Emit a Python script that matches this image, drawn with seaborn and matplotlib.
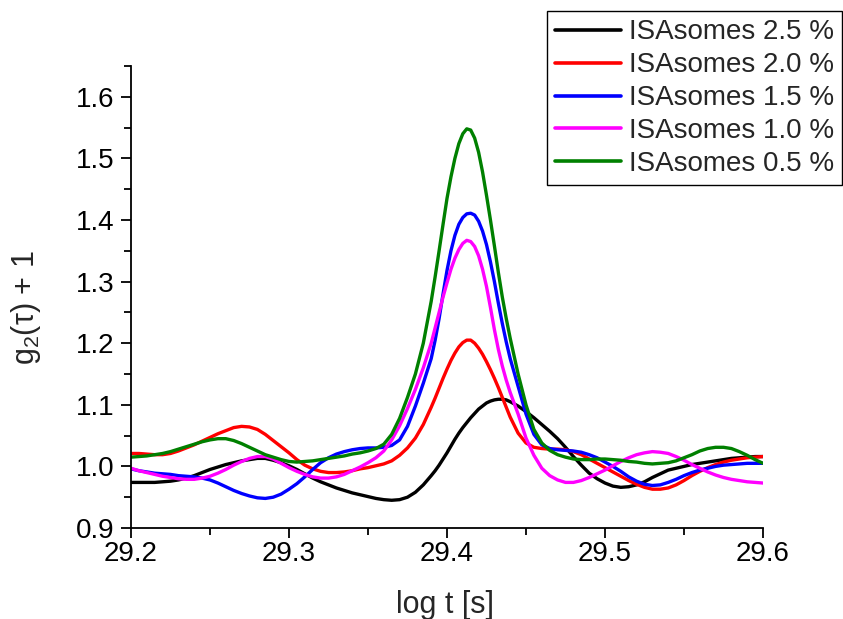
import numpy as np
import pandas as pd
import matplotlib
matplotlib.use("Agg")
import matplotlib.pyplot as plt
import seaborn as sns
from matplotlib.ticker import MultipleLocator

# ---- data ----
x_vals = [
    29.200, 29.205, 29.210, 29.215, 29.220, 29.225, 29.230, 29.235, 29.240, 29.245,
    29.250, 29.255, 29.260, 29.265, 29.270, 29.275, 29.280, 29.285, 29.290, 29.295,
    29.300, 29.305, 29.310, 29.315, 29.320, 29.325, 29.330, 29.335, 29.340, 29.345,
    29.350, 29.355, 29.360, 29.365, 29.370, 29.375, 29.380, 29.385, 29.390,
    29.3925, 29.3950, 29.3975, 29.4000, 29.4025, 29.4050, 29.4075, 29.4100, 29.4125,
    29.4150, 29.4175, 29.4200, 29.4225, 29.4250, 29.4275, 29.4300, 29.4325, 29.4350,
    29.4375,
    29.440, 29.445, 29.450, 29.455, 29.460, 29.465, 29.470, 29.475, 29.480, 29.485,
    29.490, 29.495, 29.500, 29.505, 29.510, 29.515, 29.520, 29.525, 29.530, 29.535,
    29.540, 29.545, 29.550, 29.555, 29.560, 29.565, 29.570, 29.575, 29.580, 29.585,
    29.590, 29.595, 29.600]

g_25 = [
    0.974, 0.974, 0.974, 0.974, 0.975, 0.976, 0.978, 0.981, 0.985, 0.990,
    0.995, 0.999, 1.003, 1.006, 1.009, 1.011, 1.013, 1.013, 1.010, 1.006,
    1.001, 0.995, 0.988, 0.981, 0.975, 0.970, 0.965, 0.961, 0.957, 0.954,
    0.951, 0.948, 0.946, 0.945, 0.946, 0.950, 0.958, 0.970, 0.985,
    0.993, 1.002, 1.012, 1.022, 1.033, 1.044, 1.054, 1.063, 1.071,
    1.079, 1.086, 1.093, 1.098, 1.103, 1.106, 1.108, 1.109, 1.109,
    1.108,
    1.105, 1.098, 1.089, 1.079, 1.068, 1.057, 1.045, 1.031, 1.016, 1.002,
    0.989, 0.980, 0.973, 0.968, 0.966, 0.967, 0.970, 0.975, 0.982, 0.988,
    0.994, 0.997, 1.000, 1.003, 1.005, 1.007, 1.009, 1.011, 1.013, 1.014,
    1.015, 1.016, 1.016]

g_20 = [
    1.021, 1.021, 1.020, 1.019, 1.019, 1.021, 1.025, 1.030, 1.035, 1.041,
    1.047, 1.053, 1.058, 1.063, 1.065, 1.064, 1.060, 1.052, 1.042, 1.032,
    1.022, 1.011, 1.002, 0.996, 0.992, 0.990, 0.990, 0.991, 0.993, 0.996,
    0.998, 1.001, 1.004, 1.009, 1.018, 1.030, 1.046, 1.068, 1.096,
    1.111, 1.127, 1.143, 1.158, 1.172, 1.184, 1.194, 1.201, 1.205,
    1.205, 1.200, 1.192, 1.182, 1.170, 1.157, 1.143, 1.128, 1.112,
    1.096,
    1.080, 1.054, 1.038, 1.031, 1.029, 1.028, 1.028, 1.027, 1.024, 1.019,
    1.012, 1.005, 0.998, 0.991, 0.984, 0.977, 0.971, 0.966, 0.963, 0.963,
    0.965, 0.970, 0.977, 0.985, 0.992, 0.998, 1.003, 1.007, 1.010, 1.012,
    1.014, 1.015, 1.016]

g_15 = [
    0.996, 0.993, 0.991, 0.989, 0.988, 0.987, 0.985, 0.984, 0.983, 0.981,
    0.978, 0.973, 0.967, 0.961, 0.956, 0.952, 0.949, 0.948, 0.950, 0.955,
    0.963, 0.972, 0.983, 0.995, 1.006, 1.014, 1.020, 1.024, 1.027, 1.029,
    1.030, 1.030, 1.031, 1.034, 1.043, 1.065, 1.098, 1.135, 1.175,
    1.205, 1.240, 1.280, 1.318, 1.350, 1.375, 1.393, 1.404, 1.410,
    1.411, 1.408, 1.398, 1.382, 1.360, 1.332, 1.300, 1.265, 1.232,
    1.202,
    1.175, 1.130, 1.085, 1.052, 1.035, 1.029, 1.027, 1.026, 1.025, 1.023,
    1.019, 1.014, 1.007, 1.000, 0.992, 0.983, 0.976, 0.971, 0.969, 0.970,
    0.974, 0.979, 0.985, 0.990, 0.994, 0.997, 1.000, 1.002, 1.003, 1.004,
    1.005, 1.005, 1.005]

g_10 = [
    0.997, 0.993, 0.990, 0.987, 0.984, 0.982, 0.980, 0.979, 0.979, 0.981,
    0.984, 0.989, 0.995, 1.002, 1.008, 1.013, 1.016, 1.016, 1.012, 1.005,
    0.998, 0.992, 0.987, 0.983, 0.981, 0.981, 0.983, 0.987, 0.993, 0.999,
    1.006, 1.014, 1.025, 1.043, 1.066, 1.094, 1.125, 1.160, 1.200,
    1.225, 1.250, 1.275, 1.298, 1.320, 1.338, 1.352, 1.362, 1.367,
    1.365, 1.357, 1.342, 1.320, 1.292, 1.258, 1.222, 1.190, 1.163,
    1.140,
    1.120, 1.085, 1.046, 1.018, 0.997, 0.985, 0.978, 0.974, 0.974, 0.977,
    0.982, 0.988, 0.994, 1.001, 1.008, 1.014, 1.019, 1.022, 1.024, 1.023,
    1.021, 1.016, 1.010, 1.003, 0.997, 0.991, 0.986, 0.982, 0.979, 0.977,
    0.975, 0.974, 0.973]

g_05 = [
    1.015, 1.016, 1.017, 1.019, 1.021, 1.024, 1.028, 1.032, 1.036, 1.040,
    1.043, 1.045, 1.045, 1.042, 1.037, 1.031, 1.025, 1.019, 1.015, 1.011,
    1.008, 1.007, 1.008, 1.009, 1.011, 1.013, 1.015, 1.017, 1.020, 1.022,
    1.025, 1.029, 1.036, 1.052, 1.078, 1.112, 1.150, 1.200, 1.268,
    1.308, 1.350, 1.393, 1.435, 1.470, 1.500, 1.524, 1.540, 1.548,
    1.546, 1.533, 1.510, 1.478, 1.440, 1.400, 1.358, 1.315, 1.275,
    1.240,
    1.208, 1.150, 1.100, 1.060, 1.038, 1.026, 1.019, 1.015, 1.012, 1.011,
    1.011, 1.012, 1.012, 1.011, 1.010, 1.008, 1.007, 1.005, 1.004, 1.005,
    1.006, 1.009, 1.014, 1.019, 1.025, 1.029, 1.031, 1.031, 1.029, 1.024,
    1.018, 1.011, 1.005]

labels = ["ISAsomes 2.5 %", "ISAsomes 2.0 %", "ISAsomes 1.5 %",
          "ISAsomes 1.0 %", "ISAsomes 0.5 %"]
colors = ["#000000", "#ff0000", "#0000ff", "#ff00ff", "#008000"]
series = [g_25, g_20, g_15, g_10, g_05]

x_ticks = [29.2, 29.3, 29.4, 29.5, 29.6]
y_ticks = [0.9, 1.0, 1.1, 1.2, 1.3, 1.4, 1.5, 1.6]

df = pd.concat([pd.DataFrame({"x": x_vals, "y": s, "label": lab})
                for s, lab in zip(series, labels)], ignore_index=True)

# ---- styling ----
sns.set_style("ticks")
plt.rcParams["font.family"] = ["Liberation Sans", "DejaVu Sans"]
plt.rcParams["mathtext.fontset"] = "custom"
plt.rcParams["mathtext.rm"] = "Liberation Sans"
plt.rcParams["mathtext.it"] = "Liberation Sans:italic"

fig = plt.figure(figsize=(8.43, 6.19), dpi=100)
ax = fig.add_axes([131 / 843, 1 - 528 / 619, (763 - 131) / 843, (528 - 66) / 619])

sns.lineplot(data=df, x="x", y="y", hue="label", hue_order=labels,
             palette=dict(zip(labels, colors)), linewidth=2.4, ax=ax,
             sort=False, estimator=None)

ax.set_xlim(29.2, 29.6)
ax.set_ylim(0.9, 1.65)
ax.set_xticks(x_ticks)
ax.set_yticks(y_ticks)
ax.set_xticklabels([f"{v:.1f}" for v in x_ticks])
ax.set_yticklabels([f"{v:.1f}" for v in y_ticks])
ax.xaxis.set_minor_locator(MultipleLocator(0.05))
ax.yaxis.set_minor_locator(MultipleLocator(0.05))
ax.tick_params(which="major", length=7.2, width=1.3, labelsize=20, color="black",
               labelcolor="black", direction="out")
ax.tick_params(axis="x", which="major", pad=2.5)
ax.tick_params(axis="y", which="major", pad=4.5)
ax.tick_params(which="minor", length=5, width=1.3, color="black", direction="out")

for side in ["top", "right"]:
    ax.spines[side].set_visible(False)
for side in ["left", "bottom"]:
    ax.spines[side].set_linewidth(1.3)
    ax.spines[side].set_color("black")

ax.set_xlabel("log t [s]", fontsize=22)
ax.set_ylabel(r"g$_\mathregular{2}$(τ) + 1", fontsize=22)
ax.xaxis.set_label_coords(0.497, -0.134)
ax.yaxis.set_label_coords(-0.139, 0.476)

leg = ax.legend(loc="upper left", bbox_to_anchor=(547 / 843, 1 - 11 / 619),
                bbox_transform=fig.transFigure, fontsize=20, frameon=True,
                fancybox=False, edgecolor="black", framealpha=1,
                handlelength=2.35, handletextpad=0.3, labelspacing=0.25,
                borderpad=0.3, borderaxespad=0)
leg.get_frame().set_linewidth(1.0)
for h in leg.get_lines():
    h.set_linewidth(2.6)

fig.savefig("out.png", dpi=100)
